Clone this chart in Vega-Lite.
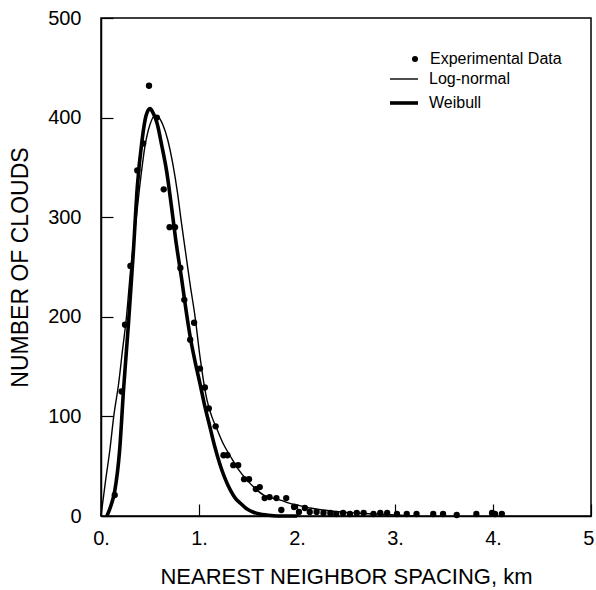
{
  "$schema": "https://vega.github.io/schema/vega-lite/v6.json",
  "width": 490,
  "height": 498,
  "autosize": {"type": "none"},
  "padding": {"left": 101, "top": 18, "right": 5, "bottom": 74},
  "config": {
    "view": {"stroke": "black", "strokeWidth": 1.5},
    "font": "Liberation Sans",
    "axis": {
      "grid": false,
      "domainColor": "black",
      "domainWidth": 1.5,
      "tickColor": "black",
      "tickWidth": 1.2,
      "tickSize": -12,
      "labelColor": "black",
      "labelFontSize": 20,
      "titleColor": "black",
      "titleFontWeight": "normal"
    },
    "legend": {"labelColor": "black", "labelFontSize": 16, "padding": 0}
  },
  "datasets": {
    "curves": [
      {"series": "Log-normal", "x": 0.0, "y": 0},
      {"series": "Log-normal", "x": 0.05, "y": 38},
      {"series": "Log-normal", "x": 0.09, "y": 66},
      {"series": "Log-normal", "x": 0.13, "y": 100},
      {"series": "Log-normal", "x": 0.18, "y": 133},
      {"series": "Log-normal", "x": 0.22, "y": 167},
      {"series": "Log-normal", "x": 0.26, "y": 200},
      {"series": "Log-normal", "x": 0.30, "y": 245},
      {"series": "Log-normal", "x": 0.35, "y": 290},
      {"series": "Log-normal", "x": 0.40, "y": 335},
      {"series": "Log-normal", "x": 0.45, "y": 372},
      {"series": "Log-normal", "x": 0.50, "y": 393},
      {"series": "Log-normal", "x": 0.55, "y": 402},
      {"series": "Log-normal", "x": 0.59, "y": 400},
      {"series": "Log-normal", "x": 0.63, "y": 393},
      {"series": "Log-normal", "x": 0.68, "y": 378},
      {"series": "Log-normal", "x": 0.73, "y": 355},
      {"series": "Log-normal", "x": 0.78, "y": 325},
      {"series": "Log-normal", "x": 0.82, "y": 295},
      {"series": "Log-normal", "x": 0.86, "y": 267},
      {"series": "Log-normal", "x": 0.91, "y": 232},
      {"series": "Log-normal", "x": 0.96, "y": 200},
      {"series": "Log-normal", "x": 1.01, "y": 160},
      {"series": "Log-normal", "x": 1.08, "y": 117},
      {"series": "Log-normal", "x": 1.13, "y": 100},
      {"series": "Log-normal", "x": 1.18, "y": 88},
      {"series": "Log-normal", "x": 1.25, "y": 72},
      {"series": "Log-normal", "x": 1.32, "y": 60},
      {"series": "Log-normal", "x": 1.40, "y": 47},
      {"series": "Log-normal", "x": 1.49, "y": 36},
      {"series": "Log-normal", "x": 1.57, "y": 28},
      {"series": "Log-normal", "x": 1.66, "y": 21},
      {"series": "Log-normal", "x": 1.75, "y": 18},
      {"series": "Log-normal", "x": 1.83, "y": 16},
      {"series": "Log-normal", "x": 1.92, "y": 13},
      {"series": "Log-normal", "x": 2.00, "y": 11},
      {"series": "Log-normal", "x": 2.13, "y": 8},
      {"series": "Log-normal", "x": 2.27, "y": 6},
      {"series": "Log-normal", "x": 2.45, "y": 4},
      {"series": "Log-normal", "x": 2.60, "y": 3},
      {"series": "Log-normal", "x": 2.80, "y": 2},
      {"series": "Log-normal", "x": 3.00, "y": 1},
      {"series": "Log-normal", "x": 3.20, "y": 0},
      {"series": "Weibull", "x": 0.06, "y": 0},
      {"series": "Weibull", "x": 0.10, "y": 10},
      {"series": "Weibull", "x": 0.14, "y": 25},
      {"series": "Weibull", "x": 0.19, "y": 66},
      {"series": "Weibull", "x": 0.23, "y": 127},
      {"series": "Weibull", "x": 0.28, "y": 193},
      {"series": "Weibull", "x": 0.33, "y": 265},
      {"series": "Weibull", "x": 0.37, "y": 330},
      {"series": "Weibull", "x": 0.42, "y": 378},
      {"series": "Weibull", "x": 0.46, "y": 402},
      {"series": "Weibull", "x": 0.50, "y": 409},
      {"series": "Weibull", "x": 0.53, "y": 405},
      {"series": "Weibull", "x": 0.57, "y": 395},
      {"series": "Weibull", "x": 0.62, "y": 372},
      {"series": "Weibull", "x": 0.67, "y": 346},
      {"series": "Weibull", "x": 0.72, "y": 310},
      {"series": "Weibull", "x": 0.77, "y": 272},
      {"series": "Weibull", "x": 0.82, "y": 240},
      {"series": "Weibull", "x": 0.87, "y": 205},
      {"series": "Weibull", "x": 0.91, "y": 180},
      {"series": "Weibull", "x": 0.96, "y": 155},
      {"series": "Weibull", "x": 1.01, "y": 133},
      {"series": "Weibull", "x": 1.06, "y": 110},
      {"series": "Weibull", "x": 1.11, "y": 90},
      {"series": "Weibull", "x": 1.16, "y": 70},
      {"series": "Weibull", "x": 1.21, "y": 53},
      {"series": "Weibull", "x": 1.26, "y": 39},
      {"series": "Weibull", "x": 1.32, "y": 26},
      {"series": "Weibull", "x": 1.37, "y": 18},
      {"series": "Weibull", "x": 1.42, "y": 13},
      {"series": "Weibull", "x": 1.49, "y": 7},
      {"series": "Weibull", "x": 1.55, "y": 4},
      {"series": "Weibull", "x": 1.62, "y": 2},
      {"series": "Weibull", "x": 1.69, "y": 1},
      {"series": "Weibull", "x": 1.80, "y": 0},
      {"series": "Weibull", "x": 2.00, "y": 0}
    ],
    "points": [
      {"series": "Experimental Data", "x": 0.14, "y": 21},
      {"series": "Experimental Data", "x": 0.21, "y": 125},
      {"series": "Experimental Data", "x": 0.245, "y": 192},
      {"series": "Experimental Data", "x": 0.30, "y": 251},
      {"series": "Experimental Data", "x": 0.37, "y": 347},
      {"series": "Experimental Data", "x": 0.43, "y": 374},
      {"series": "Experimental Data", "x": 0.49, "y": 432},
      {"series": "Experimental Data", "x": 0.57, "y": 400},
      {"series": "Experimental Data", "x": 0.64, "y": 328},
      {"series": "Experimental Data", "x": 0.70, "y": 290},
      {"series": "Experimental Data", "x": 0.755, "y": 290},
      {"series": "Experimental Data", "x": 0.81, "y": 249},
      {"series": "Experimental Data", "x": 0.85, "y": 217},
      {"series": "Experimental Data", "x": 0.91, "y": 177},
      {"series": "Experimental Data", "x": 0.95, "y": 194},
      {"series": "Experimental Data", "x": 1.01, "y": 148},
      {"series": "Experimental Data", "x": 1.06, "y": 129},
      {"series": "Experimental Data", "x": 1.10, "y": 108},
      {"series": "Experimental Data", "x": 1.17, "y": 90},
      {"series": "Experimental Data", "x": 1.25, "y": 61},
      {"series": "Experimental Data", "x": 1.29, "y": 61},
      {"series": "Experimental Data", "x": 1.35, "y": 51},
      {"series": "Experimental Data", "x": 1.40, "y": 51},
      {"series": "Experimental Data", "x": 1.46, "y": 37},
      {"series": "Experimental Data", "x": 1.51, "y": 37},
      {"series": "Experimental Data", "x": 1.58, "y": 27},
      {"series": "Experimental Data", "x": 1.62, "y": 29},
      {"series": "Experimental Data", "x": 1.67, "y": 18},
      {"series": "Experimental Data", "x": 1.72, "y": 19},
      {"series": "Experimental Data", "x": 1.79, "y": 18},
      {"series": "Experimental Data", "x": 1.84, "y": 6},
      {"series": "Experimental Data", "x": 1.89, "y": 18},
      {"series": "Experimental Data", "x": 1.97, "y": 9},
      {"series": "Experimental Data", "x": 2.02, "y": 4},
      {"series": "Experimental Data", "x": 2.08, "y": 8},
      {"series": "Experimental Data", "x": 2.13, "y": 4},
      {"series": "Experimental Data", "x": 2.20, "y": 4},
      {"series": "Experimental Data", "x": 2.27, "y": 3},
      {"series": "Experimental Data", "x": 2.34, "y": 3},
      {"series": "Experimental Data", "x": 2.40, "y": 2},
      {"series": "Experimental Data", "x": 2.47, "y": 3},
      {"series": "Experimental Data", "x": 2.54, "y": 2},
      {"series": "Experimental Data", "x": 2.61, "y": 3},
      {"series": "Experimental Data", "x": 2.68, "y": 3},
      {"series": "Experimental Data", "x": 2.78, "y": 2},
      {"series": "Experimental Data", "x": 2.85, "y": 3},
      {"series": "Experimental Data", "x": 2.92, "y": 3},
      {"series": "Experimental Data", "x": 3.02, "y": 2},
      {"series": "Experimental Data", "x": 3.12, "y": 2},
      {"series": "Experimental Data", "x": 3.22, "y": 2},
      {"series": "Experimental Data", "x": 3.39, "y": 2},
      {"series": "Experimental Data", "x": 3.49, "y": 2},
      {"series": "Experimental Data", "x": 3.63, "y": 1},
      {"series": "Experimental Data", "x": 3.83, "y": 2},
      {"series": "Experimental Data", "x": 3.99, "y": 3},
      {"series": "Experimental Data", "x": 4.02, "y": 2},
      {"series": "Experimental Data", "x": 4.09, "y": 2}
    ]
  },
  "encoding": {
    "x": {
      "field": "x",
      "type": "quantitative",
      "scale": {"domain": [0, 5], "nice": false},
      "axis": {
        "title": "NEAREST NEIGHBOR SPACING, km",
        "titleFontSize": 22,
        "titlePadding": 18,
        "values": [0, 1, 2, 3, 4, 5],
        "labelExpr": "datum.label + '.'",
        "labelPadding": 24,
        "labelFlush": false
      }
    },
    "y": {
      "field": "y",
      "type": "quantitative",
      "scale": {"domain": [0, 500], "nice": false},
      "axis": {
        "title": "NUMBER OF CLOUDS",
        "titleFontSize": 23,
        "titlePadding": 15,
        "values": [0, 100, 200, 300, 400, 500],
        "labelPadding": 32
      }
    }
  },
  "layer": [
    {
      "data": {"name": "curves"},
      "mark": {"type": "line", "color": "black", "interpolate": "monotone", "strokeJoin": "round"},
      "encoding": {
        "strokeWidth": {
          "field": "series",
          "type": "ordinal",
          "scale": {"domain": ["Log-normal", "Weibull"], "range": [1.4, 3.6]},
          "legend": {
            "orient": "none",
            "legendX": 287,
            "legendY": 46,
            "title": null,
            "symbolSize": 784,
            "symbolType": "stroke",
            "symbolStrokeColor": "black",
            "labelOffset": 9,
            "rowPadding": -6
          }
        }
      }
    },
    {
      "data": {"name": "points"},
      "mark": {"type": "point", "filled": true, "color": "black", "size": 40, "opacity": 1},
      "encoding": {
        "shape": {
          "field": "series",
          "type": "nominal",
          "scale": {"range": ["circle"]},
          "legend": {
            "orient": "none",
            "legendX": 306,
            "legendY": 33,
            "title": null,
            "symbolSize": 36,
            "symbolFillColor": "black",
            "symbolStrokeColor": "black",
            "labelOffset": 7
          }
        }
      }
    }
  ]
}
